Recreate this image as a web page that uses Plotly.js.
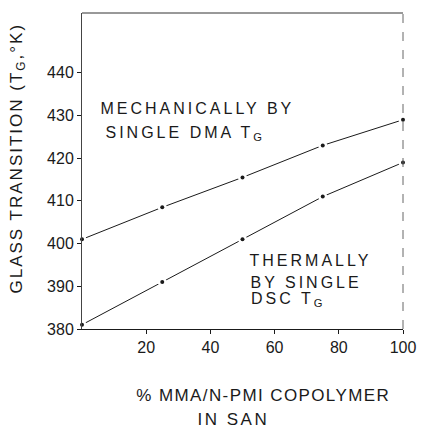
<!DOCTYPE html>
<html>
<head>
<meta charset="utf-8">
<script src="https://cdn.plot.ly/plotly-3.0.1.min.js"></script>
<style>
html,body{margin:0;padding:0;background:#fff;}
#chart{width:421px;height:434px;}
g.annotation[data-index="0"] text{letter-spacing:2px;}
g.annotation[data-index="1"] text{letter-spacing:1.4px;}
g.annotation[data-index="2"] text{letter-spacing:2.5px;}
g.annotation[data-index="3"] text,
g.annotation[data-index="4"] text,
g.annotation[data-index="5"] text,
g.annotation[data-index="6"] text,
g.annotation[data-index="7"] text{letter-spacing:3px;}
</style>
</head>
<body>
<div id="chart"></div>
<script>
// Data
const copolymerPct = [0, 25, 50, 75, 100];
const tgDMA = [401, 408.5, 415.5, 423, 429];
const tgDSC = [381, 391, 401, 411, 419];
const xTickVals = [20, 40, 60, 80, 100];
const xTickText = ['20', '40', '60', '80', '100'];
const yTickVals = [380, 390, 400, 410, 420, 430, 440];
const yTickText = ['380', '390', '400', '410', '420', '430', '440'];

const ink = '#1a1a1a';
const fnt = 'Liberation Sans, Arial, sans-serif';

function seriesTraces(x, y) {
  return [
    {x: x, y: y, mode: 'lines', line: {color: ink, width: 1}, hoverinfo: 'skip', showlegend: false},
    {x: x, y: y, mode: 'markers', marker: {color: '#ffffff', size: 9}, hoverinfo: 'skip', showlegend: false, cliponaxis: false},
    {x: x, y: y, mode: 'markers', marker: {color: ink, size: 4}, showlegend: false, cliponaxis: false}
  ];
}

const traces = [].concat(seriesTraces(copolymerPct, tgDMA), seriesTraces(copolymerPct, tgDSC));

const L = 82, T = 13, W = 321, H = 316;
function px(x) { return (x - L) / W; }
function py(y) { return (T + H - y) / H; }

// letter-spacing (CSS) grows text symmetrically about its centre; compensate
function note(text, nChars, spacing, x, y, size, opts) {
  const half = nChars * spacing / 2;
  const rotated = opts && opts.textangle === -90;
  const ax = rotated ? x : x + half;
  const ay = rotated ? y - half : y;
  return Object.assign({text: text, xref: 'paper', yref: 'paper', x: px(ax), y: py(ay),
    showarrow: false, font: {size: size, family: fnt, color: ink}, xanchor: 'left', yanchor: 'middle'}, opts || {});
}

const layout = {
  width: 421, height: 434,
  margin: {l: L, r: 421 - L - W, t: T, b: 434 - T - H},
  paper_bgcolor: '#fff', plot_bgcolor: '#fff',
  font: {family: fnt, color: ink, size: 16},
  showlegend: false,
  xaxis: {
    range: [0, 100], tickmode: 'array', tickvals: xTickVals, ticktext: xTickText,
    showgrid: false, zeroline: false, showline: true, linecolor: ink, linewidth: 1,
    ticks: 'outside', ticklen: 4, tickcolor: ink, tickfont: {size: 16, family: fnt, color: ink}
  },
  yaxis: {
    range: [380, 454], tickmode: 'array', tickvals: yTickVals, ticktext: yTickText,
    showgrid: false, zeroline: false, showline: true, linecolor: '#444', linewidth: 1,
    ticks: 'outside', ticklen: 4, tickcolor: ink, tickfont: {size: 16, family: fnt, color: ink}
  },
  shapes: [
    {type: 'line', xref: 'paper', yref: 'paper', x0: 0, x1: 1, y0: 1, y1: 1, line: {color: '#333', width: 1}},
    {type: 'line', xref: 'paper', yref: 'paper', x0: 1, x1: 1, y0: 0, y1: 1, line: {color: '#666', width: 1, dash: 'dash'}}
  ],
  annotations: [
    note('GLASS TRANSITION (T<sub>G</sub>,°K)', 24, 2, 17, 296, 17, {textangle: -90, xanchor: 'center', yanchor: 'bottom'}),
    note('% MMA/N-PMI COPOLYMER', 21, 1.4, 134, 395, 17),
    note('IN SAN', 6, 2.5, 195, 419, 17),
    note('MECHANICALLY BY', 15, 3, 98, 108, 16),
    note('SINGLE DMA T<sub>G</sub>', 12, 3, 105, 133, 16),
    note('THERMALLY', 9, 3, 247, 260, 16),
    note('BY SINGLE', 9, 3, 248, 282, 16),
    note('DSC T<sub>G</sub>', 5, 3, 250, 299, 16)
  ]
};

Plotly.newPlot('chart', traces, layout, {displayModeBar: false, staticPlot: true});
</script>
</body>
</html>
